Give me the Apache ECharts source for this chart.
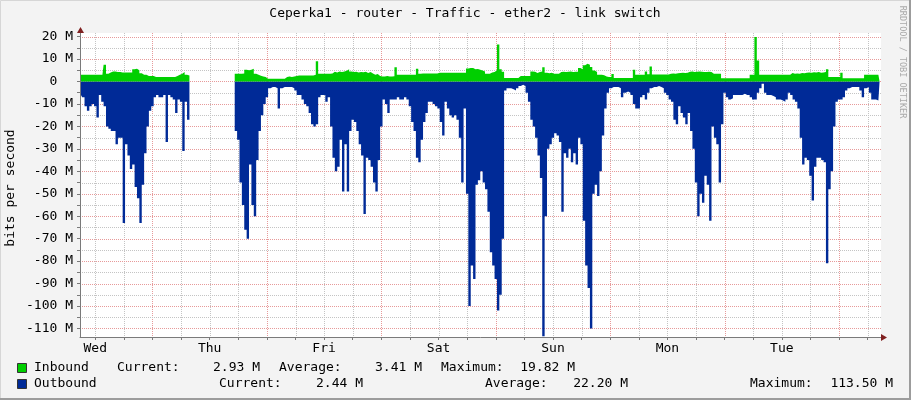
<!DOCTYPE html>
<html><head><meta charset="utf-8">
<script src="https://cdn.jsdelivr.net/npm/echarts@6/dist/echarts.min.js"></script>
<style>html,body{margin:0;padding:0;background:#f3f3f3}#c{width:911px;height:400px}</style>
</head><body><div id="c"></div>
<script>
// ---- data (hours counted from Wed 00:00, one sample every 0.5 h) ----
const chartTitle = 'Ceperka1 - router - Traffic - ether2 - link switch';
const startHour = 9.0;
const stepHour = 0.5;
const xMin = 8.8, xMax = 176.8;
const yMin = -113.8, yMax = 21.6;
const dayNames = ['Wed','Thu','Fri','Sat','Sun','Mon','Tue'];
const dayLabelHours = [12,36,60,84,108,132,156];
const yTickLabels = [20,10,0,-10,-20,-30,-40,-50,-60,-70,-80,-90,-100,-110];

const inbound = [
  3,3,3,3,3,3,3,3,3,3,7.5,3.5,
  4,4.5,4.5,4.2,4.2,4,4,4,4,4,5.5,5.7,
  5,3.7,3,3,2.4,2.4,2.4,2,2,2,2,2,
  2,2,2,2,2.5,3,3.5,4.2,3,2.7,null,null,
  null,null,null,null,null,null,null,null,null,null,null,null,
  null,null,null,null,null,3.4,3.4,3.4,3.6,5.2,5,5.2,
  5.7,3.5,3,2.6,2.2,2,1.2,1.2,1.2,1.2,1.2,1.2,
  1.2,1.2,2,2.2,2,2.2,2.5,2.7,2.7,2.7,2.7,2.7,
  2.7,2.7,3,9,3.4,3.4,3.5,3.4,3.4,3.6,4.3,4,
  4.5,4.2,4.4,4.8,5.4,4.5,4.2,4.3,4,4.2,4.1,4.3,
  3.8,4.2,3.6,3,3.3,2.5,2.2,2.2,2.4,2.2,2.2,2.3,
  6.4,3,3,3,3,3,3,3,3,5.7,3.4,3.6,
  3.6,3.6,3.6,3.6,3.6,3.6,3.9,3.9,3.9,3.9,3.9,3.9,
  3.9,3.9,3.9,3.9,3.9,3.9,5.8,6,6,5.5,5.6,5.2,
  4.9,4.5,3.4,3.5,4,4.2,5,16.5,5.5,4.3,1.6,1.6,
  1.6,1.6,1.6,1.6,2.4,2.4,2.4,2.4,2.4,4.5,4.3,3.8,
  4.2,4.5,6.4,3.9,3.7,3.9,3.4,3.5,3.4,4.2,4.3,4.2,
  4.3,4.4,4.2,4.3,4.3,6,5.5,7.2,7.9,7.5,6.5,4.9,
  4.2,3,3,2.8,2.2,2,2,3.3,1.6,1.6,1.6,1.6,
  1.6,1.6,1.6,1.6,5.2,3,3,3,3,4.5,3.2,6.7,
  3.1,3.1,3.1,3.1,3.1,3.1,3.1,3.4,3.6,3.5,3.7,3.8,
  3.9,3.8,3.9,4.3,4.4,4.2,4.3,4.5,4.3,4.2,4.2,4.3,
  4.2,3.4,3.4,3.4,3.4,1.5,1.5,1.5,1.5,1.5,1.5,1.5,
  1.5,1.5,1.5,1.5,1.5,3,3,19.8,9.4,3,3,3,
  3,3,3,3,3,3,3,3,3,3,3.8,3.5,
  3.6,3.5,3.8,3.7,3.9,4,3.9,4.1,4,4.2,3.9,4,
  4.2,5.4,2,2,2,2,2,3.9,1.5,1.5,1.5,1.5,
  1.5,1.5,1.5,1.5,1.5,3,3,3,3,3,3,2.9
];

const outbound = [
  -6,-7,-11,-13,-11,-10,-11,-16,-6,-9,-11,-20,
  -21,-22,-22,-28,-25,-25,-63,-28,-33,-39,-37,-47,
  -52,-63,-46,-32,-20,-13,-11,-7,-6,-7,-7,-6,
  -27,-6,-7,-8,-14,-8,-9,-31,-9,-17,null,null,
  null,null,null,null,null,null,null,null,null,null,null,null,
  null,null,null,null,null,-22,-26,-45,-55,-66,-70,-37,
  -55,-60,-35,-22,-15,-10,-7,-3,-2.5,-2.5,-3,-12,
  -3,-2.5,-2.5,-2.5,-2.5,-3,-4,-6,-6,-8,-10,-11,
  -14,-19,-20,-19,-7,-6,-6,-9,-7,-20,-34,-40,
  -38,-26,-49,-28,-49,-22,-17,-18,-22,-28,-33,-59,
  -34,-35,-38,-45,-49,-35,-20,-8,-10,-14,-8,-8,
  -8,-7,-8,-8,-7,-8,-11,-18,-22,-34,-36,-26,
  -18,-14,-9,-9,-10,-11,-12,-18,-24,-9,-12,-15,
  -16,-15,-17,-25,-45,-12,-50,-100,-82,-88,-46,-44,
  -40,-45,-48,-58,-76,-82,-88,-102,-95,-70,-4,-3,
  -3,-3.5,-4,-3,-2,-1.5,-2,-5,-9,-17,-20,-25,
  -33,-43,-113.5,-60,-30,-28,-25,-23,-24,-27,-58,-32,
  -34,-30,-36,-32,-37,-25,-28,-62,-82,-92,-110,-50,
  -46,-51,-40,-24,-12,-5,-3,-2.5,-2.5,-2.5,-3,-7,
  -5,-4.5,-5,-6,-10,-12,-12,-7,-6,-8,-5,-3,
  -2.5,-2.5,-2,-2.5,-3,-5,-6,-8,-9,-17,-19,-11,
  -14,-16,-19,-14,-22,-30,-45,-60,-50,-54,-42,-46,
  -62,-20,-25,-28,-45,-19,-5,-7,-8,-7.5,-6,-6,
  -6,-6,-5.5,-6,-6,-7,-8,-8,-5,-3,-1,-5,
  -6,-6,-6.5,-7,-8,-8,-8.5,-9,-8,-5,-6,-8,
  -9,-12,-25,-37,-34,-35,-42,-53,-38,-34,-34,-35,
  -36,-81,-48,-40,-20,-9,-8,-8,-7,-4,-3,-2.5,
  -2.5,-2.5,-2.5,-4,-7,-3,-2.5,-5,-8,-8,-8.5,-8
];

const legendInbound = ['Inbound', 'Current:', '2.93 M', 'Average:', '3.41 M', 'Maximum:', '19.82 M'];
const legendOutbound = ['Outbound', 'Current:', '2.44 M', 'Average:', '22.20 M', 'Maximum:', '113.50 M'];

// ---- build ----
const hours = inbound.map((_, i) => startHour + i * stepHour);
const inData = hours.map((t, i) => [t, inbound[i]]);
const outData = hours.map((t, i) => [t, outbound[i]]);

const vGridHours = [];
for (let h = 12; h < xMax; h += 6) vGridHours.push(h);
const hGridValues = [];
for (let v = -110; v <= 20; v += 5) hGridValues.push(v);

const FONT = 'DejaVu Sans Mono';
const GRAY = '#c4c4c4', RED = '#e79a9a';
const BLUE = '#002A97', GREEN = '#00CF00';
const AXIS = '#7a7a7a';

const chart = echarts.init(document.getElementById('c'), null, {renderer: 'canvas'});

const legendColX = {
  in:  [[34, 'left'], [117, 'left'], [260, 'right'], [279, 'left'], [422, 'right'], [441, 'left'], [575, 'right']],
  out: [[34, 'left'], [219, 'left'], [363, 'right'], [485, 'left'], [628, 'right'], [750, 'left'], [893, 'right']]
};
const baseGraphics = [
  {type: 'rect', shape: {x: 0.5, y: 0.5, width: 909, height: 398}, style: {fill: null, stroke: '#d6d6d6', lineWidth: 1}, z: 100},
  {type: 'line', shape: {x1: 0, y1: 399, x2: 911, y2: 399}, style: {stroke: '#9c9c9c', lineWidth: 2}, z: 101},
  {type: 'line', shape: {x1: 910, y1: 0, x2: 910, y2: 400}, style: {stroke: '#9c9c9c', lineWidth: 2}, z: 101},
  {type: 'text', x: 465, y: 14, style: {text: chartTitle, font: '13px "' + FONT + '"', fill: '#000', textAlign: 'center', textVerticalAlign: 'middle'}},
  {type: 'text', x: 11, y: 188, rotation: Math.PI / 2, style: {text: 'bits per second', font: '13px "' + FONT + '"', fill: '#000', textAlign: 'center', textVerticalAlign: 'middle'}},
  {type: 'text', x: 902.5, y: 62, rotation: -Math.PI / 2, style: {text: 'RRDTOOL / TOBI OETIKER', font: '8.5px "' + FONT + '"', fill: '#a9a9a9', textAlign: 'center', textVerticalAlign: 'middle'}},
  {type: 'rect', shape: {x: 17.5, y: 363.5, width: 9, height: 9}, style: {fill: GREEN, stroke: '#333', lineWidth: 1}},
  {type: 'rect', shape: {x: 17.5, y: 379.5, width: 9, height: 9}, style: {fill: BLUE, stroke: '#333', lineWidth: 1}}
];
legendInbound.forEach((s, i) => baseGraphics.push({type: 'text', x: legendColX.in[i][0], y: 368,
  style: {text: s, font: '13px "' + FONT + '"', fill: '#000', textAlign: legendColX.in[i][1], textVerticalAlign: 'middle'}}));
legendOutbound.forEach((s, i) => baseGraphics.push({type: 'text', x: legendColX.out[i][0], y: 384,
  style: {text: s, font: '13px "' + FONT + '"', fill: '#000', textAlign: legendColX.out[i][1], textVerticalAlign: 'middle'}}));

chart.setOption({
  animation: false,
  backgroundColor: '#f3f3f3',
  grid: {left: 80, right: 30, top: 33, bottom: 63, show: false},
  xAxis: {
    type: 'value', min: xMin, max: xMax,
    axisLine: {show: true, onZero: false, lineStyle: {color: AXIS, width: 1}},
    axisTick: {show: true, customValues: vGridHours, length: 3, lineStyle: {color: AXIS}},
    axisLabel: {customValues: dayLabelHours, formatter: v => dayNames[Math.round((v - 12) / 24)],
      fontFamily: FONT, fontSize: 13, color: '#000', margin: 5},
    splitLine: {show: false}
  },
  yAxis: {
    type: 'value', min: yMin, max: yMax,
    axisLine: {show: true, onZero: false, lineStyle: {color: AXIS, width: 1}},
    axisTick: {show: true, customValues: hGridValues, length: 3, lineStyle: {color: AXIS}},
    axisLabel: {customValues: yTickLabels, formatter: v => (v === 0 ? '0  ' : v + ' M'),
      fontFamily: FONT, fontSize: 13, color: '#000', margin: 7},
    splitLine: {show: false}
  },
  series: [
    {name: 'Outbound', type: 'line', data: outData, step: 'middle', showSymbol: false, connectNulls: false,
      lineStyle: {width: 0}, itemStyle: {color: BLUE}, areaStyle: {color: BLUE, opacity: 1}, z: 3, silent: true},
    {name: 'Inbound', type: 'line', data: inData, step: 'middle', showSymbol: false, connectNulls: false,
      lineStyle: {width: 0}, itemStyle: {color: GREEN}, areaStyle: {color: GREEN, opacity: 1}, z: 3, silent: true}
  ],
  graphic: baseGraphics
});

// plot background, dotted grid and axis arrows, positioned through the axes' own scale
const tl = chart.convertToPixel({gridIndex: 0}, [xMin, yMax]);
const br = chart.convertToPixel({gridIndex: 0}, [xMax, yMin]);
const gfx = baseGraphics.slice();
gfx.push({type: 'rect', shape: {x: tl[0], y: tl[1], width: br[0] - tl[0], height: br[1] - tl[1]},
  style: {fill: '#ffffff'}, z: -10, silent: true});
vGridHours.forEach(h => {
  const x = Math.round(chart.convertToPixel({xAxisIndex: 0}, h)) + 0.5;
  gfx.push({type: 'line', shape: {x1: x, y1: tl[1], x2: x, y2: br[1]},
    style: {stroke: h % 24 === 0 ? RED : GRAY, lineWidth: 1, lineDash: [1, 1]}, z: -5, silent: true});
});
hGridValues.forEach(v => {
  const y = Math.round(chart.convertToPixel({yAxisIndex: 0}, v)) + 0.5;
  gfx.push({type: 'line', shape: {x1: tl[0], y1: y, x2: br[0], y2: y},
    style: {stroke: v % 10 === 0 ? RED : GRAY, lineWidth: 1, lineDash: [1, 1]}, z: -5, silent: true});
});
const ax = Math.round(tl[0]) + 0.5, ay = Math.round(br[1]) + 0.5;
gfx.push(
  {type: 'polygon', shape: {points: [[ax - 3.5, tl[1]], [ax + 3.5, tl[1]], [ax, tl[1] - 6]]}, style: {fill: '#802020'}, z: 50},
  {type: 'polygon', shape: {points: [[br[0], ay - 3.5], [br[0], ay + 3.5], [br[0] + 6, ay]]}, style: {fill: '#802020'}, z: 50}
);
chart.setOption({graphic: gfx});
</script>
</body></html>
